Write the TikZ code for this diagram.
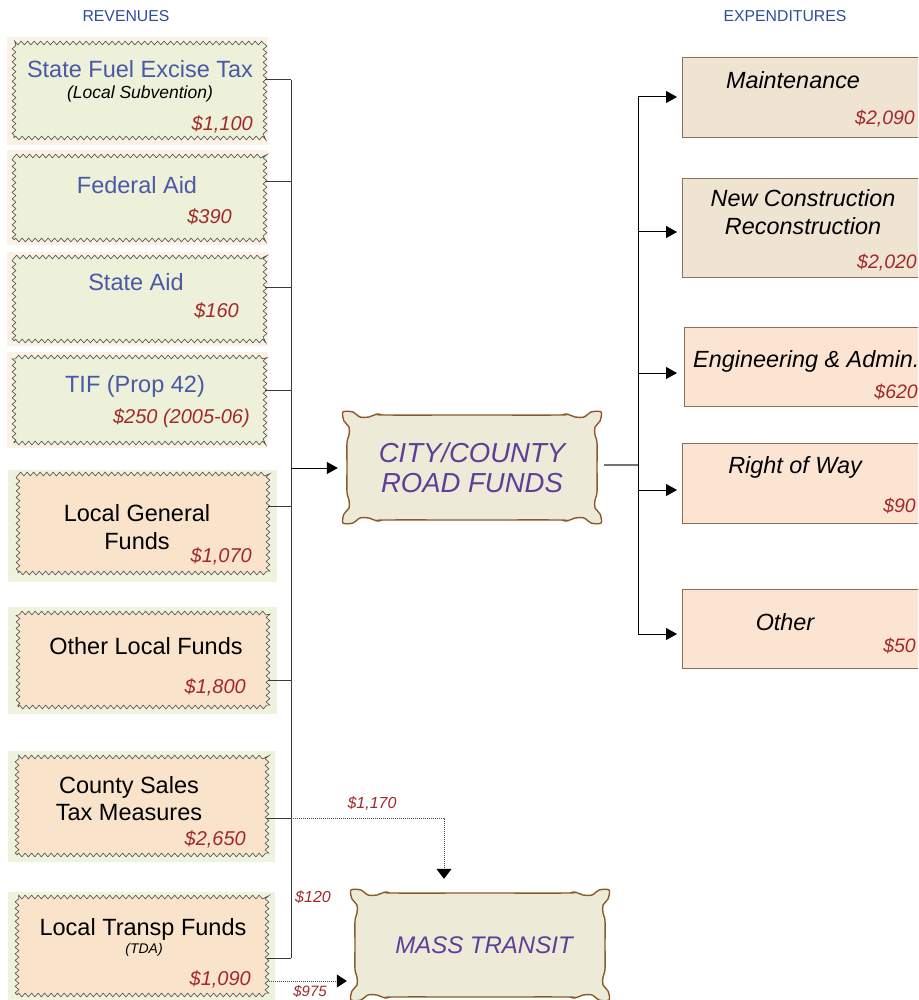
\documentclass[tikz,border=0pt]{standalone}
\usepackage{fontspec}
\setmainfont{Liberation Sans}
\usetikzlibrary{arrows.meta,decorations.pathmorphing,calc}

\definecolor{titleblue}{HTML}{4A58A8}
\definecolor{amtred}{HTML}{A3282B}
\definecolor{headblue}{HTML}{2E4E96}
\definecolor{roadpurple}{HTML}{5D3E99}
\definecolor{bgpeach}{HTML}{FCF1E5}
\definecolor{bggreen}{HTML}{EEF3DD}
\definecolor{zgreen}{HTML}{EEF1D9}
\definecolor{zpeach}{HTML}{F9E4CB}
\definecolor{tanfill}{HTML}{EFE3D2}
\definecolor{peachfill}{HTML}{FCE4D3}
\definecolor{boxedge}{HTML}{8E6E55}
\definecolor{wavyedge}{HTML}{8A5A2C}
\definecolor{wavyfill}{HTML}{EDEBD7}
\definecolor{busgray}{HTML}{3A3A3A}

\newcommand{\fsz}[1]{\fontsize{#1}{#1}\selectfont}

% scalloped frame between (#1,#2) and (#3,#4), y growing downwards
\newcommand{\wavyframe}[4]{%
  \filldraw[draw=wavyedge, fill=wavyfill, line width=1.4pt]
    plot[smooth cycle, tension=0.55] coordinates {
      ({#1-4},{#2-3}) ({#1+6},{#2-3}) ({#1+13},{#2+2}) ({#1+22},{#2+2}) ({#1+30},{#2-1}) ({#1+38},{#2})
      ({(#1+#3)/2},{#2})
      ({#3-38},{#2}) ({#3-30},{#2-1}) ({#3-22},{#2+2}) ({#3-13},{#2+2}) ({#3-6},{#2-3}) ({#3+4},{#2-3})
      ({#3+3},{#2+6}) ({#3-2},{#2+12}) ({#3-2},{#2+20}) ({#3},{#2+28})
      ({#3},{(#2+#4)/2})
      ({#3},{#4-28}) ({#3-2},{#4-20}) ({#3-2},{#4-12}) ({#3+3},{#4-6}) ({#3+4},{#4+3})
      ({#3-6},{#4+3}) ({#3-13},{#4-2}) ({#3-22},{#4-2}) ({#3-30},{#4+1}) ({#3-38},{#4})
      ({(#1+#3)/2},{#4})
      ({#1+38},{#4}) ({#1+30},{#4+1}) ({#1+22},{#4-2}) ({#1+13},{#4-2}) ({#1+6},{#4+3}) ({#1-4},{#4+3})
      ({#1-3},{#4-6}) ({#1+2},{#4-12}) ({#1+2},{#4-20}) ({#1},{#4-28})
      ({#1},{(#2+#4)/2})
      ({#1},{#2+28}) ({#1+2},{#2+20}) ({#1+2},{#2+12}) ({#1-3},{#2+6})
    };}

\tikzset{
  backing/.style={draw=none, inner sep=0pt},
  zigbox/.style={draw=black!70, line width=0.6pt, inner sep=0pt,
    decorate, decoration={zigzag, amplitude=1.9pt, segment length=6.5pt}},
  revtitle/.style={inner sep=0pt, text=titleblue, font=\fsz{23.5}},
  loctitle/.style={inner sep=0pt, text=black, font=\fsz{23.5}, align=center},
  amount/.style={inner sep=0pt, anchor=east, text=amtred, font=\fsz{20}\itshape},
  note/.style={inner sep=0pt, text=black, font=\fsz{17.5}\itshape},
  head/.style={inner sep=0pt, text=headblue, font=\fsz{15.8}},
  expbox/.style={draw=boxedge, line width=1pt, anchor=north west, inner sep=0pt, minimum width=250pt},
  exptitle/.style={inner sep=0pt, text=black, font=\fsz{23.4}\itshape, align=center},
  expamount/.style={inner sep=0pt, anchor=east, text=amtred, font=\fsz{19.5}\itshape},
  hub/.style={inner sep=0pt, text=roadpurple, font=\fsz{27.5}\itshape, align=center},
  bus/.style={draw=busgray, line width=1pt},
  flow/.style={draw=black, line width=1pt, -{Triangle[length=11pt,width=12pt]}},
  dotflow/.style={draw=black!70, line width=0.8pt, dash pattern=on 1pt off 1pt},
  smalllabel/.style={inner sep=0pt, text=amtred, font=\fsz{16}\itshape},
}

\begin{document}
\begin{tikzpicture}[x=1pt, y=-1pt]
\clip (0,0) rectangle (918,1000);
\fill[white] (0,0) rectangle (918,1000);

% column headings
\node[head] (revhead) at (126,16) {REVENUES};
\node[head] (exphead) at (785,16) {EXPENDITURES};

% ---- revenue sources ----
\node[backing, fill=bgpeach, minimum width=261pt, minimum height=108pt] (sfbg) at (137.5,91) {};
\node[zigbox, fill=zgreen, minimum width=251pt, minimum height=95pt] (sf) at (139.5,90.5) {};
\node[revtitle] (sft) at (140,69) {State Fuel Excise Tax};
\node[note] (sfn) at (140,94) {(Local Subvention)};
\node[amount] (sfa) at (253,124) {\$1,100};

\node[backing, fill=bgpeach, minimum width=261pt, minimum height=95pt] (fabg) at (137.5,197.5) {};
\node[zigbox, fill=zgreen, minimum width=251pt, minimum height=84pt] (fa) at (139.5,198) {};
\node[revtitle] (fat) at (137,185) {Federal Aid};
\node[amount] (faa) at (232,217) {\$390};

\node[backing, fill=bgpeach, minimum width=261pt, minimum height=94pt] (sabg) at (137.5,299) {};
\node[zigbox, fill=zgreen, minimum width=251pt, minimum height=84pt] (sa) at (139.5,299) {};
\node[revtitle] (sat) at (136,282) {State Aid};
\node[amount] (saa) at (239,311) {\$160};

\node[backing, fill=bgpeach, minimum width=261pt, minimum height=96pt] (tifbg) at (137.5,400) {};
\node[zigbox, fill=zgreen, minimum width=251pt, minimum height=86pt] (tif) at (139.5,400) {};
\node[revtitle] (tift) at (135,386) {TIF (Prop 42)};
\node[amount] (tifa) at (250,418) {\$250 (2005-06)};

\node[backing, fill=bggreen, minimum width=269pt, minimum height=112pt] (lgbg) at (142.5,526) {};
\node[zigbox, fill=zpeach, minimum width=250pt, minimum height=99pt] (lg) at (143,523.5) {};
\node[loctitle, font=\fontsize{23.5}{28}\selectfont] (lgt) at (137,527) {Local General\\Funds};
\node[amount] (lga) at (252,556) {\$1,070};

\node[backing, fill=bggreen, minimum width=269pt, minimum height=107pt] (olbg) at (142.5,660.5) {};
\node[zigbox, fill=zpeach, minimum width=250pt, minimum height=94pt] (ol) at (143,660) {};
\node[loctitle] (olt) at (146,646) {Other Local Funds};
\node[amount] (ola) at (246,687) {\$1,800};

\node[backing, fill=bggreen, minimum width=267pt, minimum height=111pt] (csbg) at (141.5,806.5) {};
\node[zigbox, fill=zpeach, minimum width=250pt, minimum height=98pt] (cs) at (142,806) {};
\node[loctitle, font=\fontsize{23.5}{27}\selectfont] (cst) at (129,798.5) {County Sales\\Tax Measures};
\node[amount] (csa) at (246,839) {\$2,650};

\node[backing, fill=bggreen, minimum width=267pt, minimum height=113pt] (ltbg) at (141.5,948.5) {};
\node[zigbox, fill=zpeach, minimum width=250pt, minimum height=98pt] (lt) at (142,946) {};
\node[loctitle] (ltt) at (143,929) {Local Transp Funds};
\node[note, font=\fsz{14}\itshape] (ltn) at (144,950) {(TDA)};
\node[amount] (lta) at (251,979) {\$1,090};

% ---- hubs ----
\wavyframe{347}{415}{597}{520}
\node[hub, minimum width=250pt, minimum height=105pt] (road) at (472,467.5) {CITY/COUNTY\\[2pt]ROAD FUNDS};

\wavyframe{355}{893}{605}{997}
\node[hub, font=\fsz{24}\itshape, minimum width=250pt, minimum height=104pt] (mass) at (484,945) {MASS TRANSIT};

% ---- expenditures ----
\node[expbox, fill=tanfill, minimum height=80pt] (maint) at (682,57) {};
\node[exptitle] (maintt) at (793,80) {Maintenance};
\node[expamount] (mainta) at (915,119) {\$2,090};

\node[expbox, fill=tanfill, minimum height=99pt] (newc) at (682,178) {};
\node[exptitle, font=\fontsize{23.4}{28}\selectfont\itshape] (newct) at (803,212.5) {New Construction\\Reconstruction};
\node[expamount] (newca) at (917,263) {\$2,020};

\node[expbox, fill=peachfill, minimum height=79pt] (eng) at (684,327) {};
\node[exptitle, anchor=west] (engt) at (693,361) {Engineering \& Admin.};
\node[expamount] (enga) at (918,392) {\$620};

\node[expbox, fill=peachfill, minimum height=80pt] (row) at (682,443) {};
\node[exptitle] (rowt) at (795,467) {Right of Way};
\node[expamount] (rowa) at (916,506) {\$90};

\node[expbox, fill=peachfill, minimum height=79pt] (oth) at (682,589) {};
\node[exptitle] (otht) at (785,622) {Other};
\node[expamount] (otha) at (916,646) {\$50};

% ---- revenue bus ----
\coordinate (b1) at (291,80);
\coordinate (b2) at (291,182);
\coordinate (b3) at (291,287);
\coordinate (b4) at (291,390);
\coordinate (b5) at (291,506);
\coordinate (b6) at (291,680);
\coordinate (b7) at (291,818);
\coordinate (b8) at (291,958);
\coordinate (bmid) at (291,468);

\draw[bus] (sf.east |- b1) -- (b1);
\draw[bus] (fa.east |- b2) -- (b2);
\draw[bus] (sa.east |- b3) -- (b3);
\draw[bus] (tif.east |- b4) -- (b4);
\draw[bus] (lg.east |- b5) -- (b5);
\draw[bus] (ol.east |- b6) -- (b6);
\draw[bus] (cs.east |- b7) -- (b7);
\draw[bus] (lt.east |- b8) -- (b8);
\draw[bus] (b1) -- (b8);
\draw[flow, shorten >=9pt] (bmid) -- (road.west |- bmid);

% ---- expenditure bus ----
\coordinate (e0) at (638,465);
\coordinate (e1) at (638,97);
\coordinate (e2) at (638,232);
\coordinate (e3) at (638,373);
\coordinate (e4) at (638,490);
\coordinate (e5) at (638,634);
\draw[draw=black!55, line width=1.5pt, shorten <=7pt] (road.east |- e0) -- (e0);
\draw[bus, draw=black] (e1) -- (e5);
\draw[flow, shorten >=5pt] (e1) -- (maint.west |- e1);
\draw[flow, shorten >=5pt] (e2) -- (newc.west |- e2);
\draw[flow, shorten >=7pt] (e3) -- (eng.west |- e3);
\draw[flow, shorten >=5pt] (e4) -- (row.west |- e4);
\draw[flow, shorten >=5pt] (e5) -- (oth.west |- e5);

% ---- transit flows ----
\draw[dotflow, -{Triangle[length=10pt,width=15pt,fill=black,color=black,sep=0pt]}, shorten >=14pt] (b7) -| ([xshift=-40pt]mass.north);
\draw[dotflow, -{Triangle[length=10pt,width=13pt,fill=black,color=black]}, shorten >=12pt] (lt.east |- 0,981) -- (mass.west |- 0,981);
\node[smalllabel] (l1170) at (372,804) {\$1,170};
\node[smalllabel] (l120) at (313,897) {\$120};
\node[smalllabel, font=\fsz{15}\itshape] (l975) at (310,991.5) {\$975};
\end{tikzpicture}
\end{document}
